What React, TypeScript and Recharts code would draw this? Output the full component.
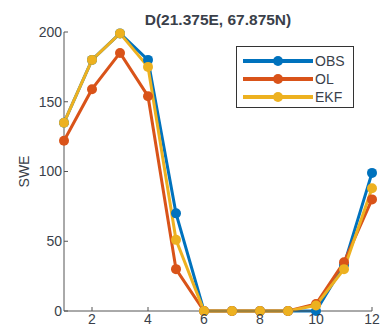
import React from "react";
import { LineChart, Line, XAxis, YAxis } from "recharts";

const months = [1, 2, 3, 4, 5, 6, 7, 8, 9, 10, 11, 12];
const obs = [135, 180, 199, 180, 70, 0, 0, 0, 0, 0, 33, 99];
const ol = [122, 159, 185, 154, 30, 0, 0, 0, 0, 5, 35, 80];
const ekf = [135, 180, 199, 175, 51, 0, 0, 0, 0, 4, 30, 88];
const xTicks = [2, 4, 6, 8, 10, 12];
const yTicks = [0, 50, 100, 150, 200];

const seriesList = [
  { key: "OBS", values: obs, color: "#0072BD" },
  { key: "OL", values: ol, color: "#D95319" },
  { key: "EKF", values: ekf, color: "#EDB120" },
];

const data = months.map((m, i) => ({
  month: m,
  OBS: obs[i],
  OL: ol[i],
  EKF: ekf[i],
}));

const font = "'Liberation Sans', Arial, sans-serif";
const textColor = "#3a3f4a";

function LegendBox() {
  return (
    <div
      style={{
        position: "absolute",
        left: 236,
        top: 46,
        border: "1px solid #333",
        background: "#fff",
        width: 118,
        height: 62,
        boxSizing: "border-box",
        padding: "5px 0 0 5px",
        fontFamily: font,
        fontSize: 14,
        color: textColor,
      }}
    >
      {seriesList.map((s) => (
        <div key={s.key} style={{ display: "flex", alignItems: "center", height: 18 }}>
          <svg width={72} height={12}>
            <line x1={1} y1={6} x2={71} y2={6} stroke={s.color} strokeWidth={4} />
            <circle cx={36} cy={6} r={5} fill={s.color} />
          </svg>
          <span style={{ marginLeft: 1 }}>{s.key}</span>
        </div>
      ))}
    </div>
  );
}

export default function App() {
  return (
    <div style={{ position: "absolute", left: 0, top: 0, width: 386, height: 336, background: "#fff" }}>
      <div
        style={{
          position: "absolute",
          left: 64,
          width: 308,
          top: 11,
          textAlign: "center",
          fontFamily: font,
          fontWeight: "bold",
          fontSize: 15.5,
          color: textColor,
        }}
      >
        D(21.375E, 67.875N)
      </div>
      <LineChart
        width={386}
        height={336}
        data={data}
        margin={{ top: 32, right: 14, bottom: 0, left: 0 }}
      >
        <XAxis
          dataKey="month"
          type="number"
          domain={[1, 12]}
          ticks={xTicks}
          tickSize={-4}
          tickMargin={7}
          height={25}
          stroke="#555"
          tick={{ fontSize: 14, fill: textColor, fontFamily: font }}
        />
        <YAxis
          domain={[0, 200]}
          ticks={yTicks}
          tickSize={-4}
          tickMargin={6}
          width={64}
          stroke="#555"
          tick={{ fontSize: 14, fill: textColor, fontFamily: font }}
          label={{
            value: "SWE",
            angle: -90,
            position: "insideLeft",
            offset: 24,
            style: { textAnchor: "middle", fontSize: 14, fill: textColor, fontFamily: font },
          }}
        />
        {seriesList.map((s) => (
          <Line
            key={s.key}
            dataKey={s.key}
            type="linear"
            stroke={s.color}
            strokeWidth={3}
            dot={{ r: 5, fill: s.color, stroke: "none" }}
            isAnimationActive={false}
          />
        ))}
      </LineChart>
      <LegendBox />
    </div>
  );
}
